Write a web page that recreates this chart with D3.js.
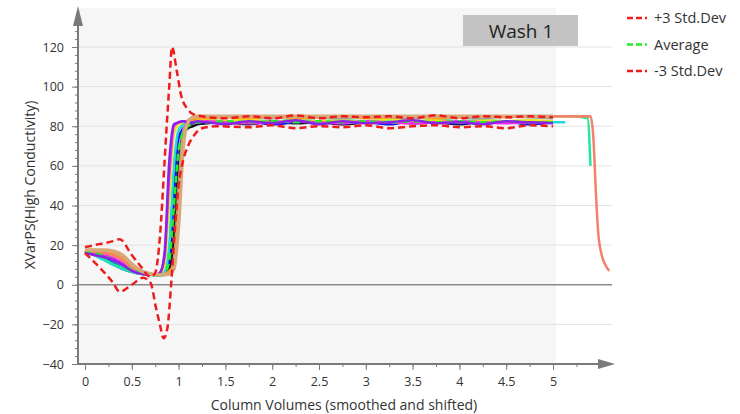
<!DOCTYPE html>
<html lang="en">
<head>
<meta charset="utf-8">
<title>Wash 1</title>
<script src="https://cdn.jsdelivr.net/npm/d3@7"></script>
<style>
body { margin: 0; background: #fff; }
svg { display: block; font-family: "Open Sans", "Noto Sans", sans-serif; }
</style>
</head>
<body>
<script>
// ---- data ----
var xGrid = [0,0.1,0.2,0.3,0.4,0.5,0.6,0.7, 0.75,0.8,0.85,0.9,0.95,1.0,1.05,1.1,1.15,1.2,
             1.3,1.5,1.75,2,2.25,2.5,2.75,3,3.25,3.5,3.75,4,4.25,4.5,4.75,5];

var blackY   = [17,15,13,10.5,8,6.5,5.5,5, 5,5,5.5,8,25,62,76,79,80,81,
                81.5,82,81,82.5,81.5,82,81,82,82.5,81.5,82,81,82.5,82,81.5,82];
var blueY    = [17,15.5,13.5,11,8.5,7,6,5.5, 5,5,6,12,45,74,79,81,81.5,82,
                82,81.5,82.5,81,82,82.5,81.5,82,81,82.5,82,81.5,82,82.5,81,82];
var cyanY    = [17,15,12.5,10,8,6.5,5.5,5, 5,5,6.5,20,60,78,81,82,82.5,83,
                83,82.5,83,82,83.5,82.5,83,82.5,83,82,83.5,82.5,83,82.5,82,82];
var tealY    = [17,15.5,13,10.5,8.5,6.5,5.5,5, 4.5,4.5,5,6,10,45,75,82,84,84.5,
                84.5,85,84.5,85,84.5,85,85,84.5,85,84.5,85,85,84.5,85,85,85];
var yellowY  = [17,16.5,15.5,14,11.5,8.5,6.5,5.5, 5,5.5,10,42,76,81,82,82.5,82.5,83,
                83,82.5,83.5,82,83,82.5,83,82,83.5,82.5,83,82,83,82.5,83,82.5];
var averageY = [17,16,14.5,12.5,10,7.5,6,5.5, 5,5,6,12,40,68,77,80,81,82,
                82,82.5,82,82.5,82,82.5,82,82.5,82,82.5,82,82.5,82,82.5,82,82];
var magentaY = [16.5,16,15,13.5,11,8,6,5, 5,6,14,55,80,82,82.5,82.5,82,82,
                82.5,82,81.5,82,82.5,82,81.5,82.5,82,81.5,82,82.5,82,81.5,82,82];
var grayY    = [17.5,17.5,17,16.5,14,10,7,5.5, 5,5,5,6,12,50,78,83,84,84.5,
                84.5,85,84.5,84,85,84.5,84,85,84.5,84,85,84.5,84,85,84.5,84];
var orangeY  = [17,17,16.5,15.5,13,9,6.5,5.5, 5,5,5.5,7,10,40,74,81,83,84,
                84,84.5,84,85,84,84.5,85,84,84.5,85,84,84.5,85,84.5,85,85];
var salmonY  = [17,16.5,16,15,12.5,8.5,6,5, 5,5,5,6,9,35,72,82,84.5,85,
                85,85,85,85,85,85,85,85,85,85,85,85,85,85,85,85];
var purpleY  = [16,15,14,12.5,10,7,5.5,5, 5,6,16,62,81,82,82.5,82,82,82.5,
                82,81,82.5,81.5,83,81,82.5,81.5,82,83,81.5,82,81,82.5,82,81.5];
var tanY     = [17.5,17.5,17.5,17,15,10.5,7,5.5, 5,5,5,5.5,8,30,70,82,84.5,85,
                85,85,85,85,85,85,85,85,85,85,85,85,85,85,85,85];

// tails of the runs that go past 5 column volumes
var cyanTailX   = [5.13];
var cyanTailY   = [82];
var tealTailX   = [5.2, 5.37, 5.4];
var tealTailY   = [85, 84, 60];
var orangeTailX = [5.2, 5.4];
var orangeTailY = [85, 85];
var salmonTailX = [5.2, 5.4, 5.43, 5.46, 5.48, 5.52, 5.56, 5.6];
var salmonTailY = [85, 85, 75, 45, 28, 15, 10, 7];

// +/- 3 standard deviation bands
var plusX  = [0,0.15,0.3,0.37,0.5,0.6,0.7,0.75,0.8,0.85,0.87,0.9,0.93,0.98,1.03,1.09,1.16,1.25,
              1.5,1.75,2,2.25,2.5,2.75,3,3.25,3.5,3.75,4,4.25,4.5,4.75,5];
var plusY  = [19,20.5,22,23,15,9,4,6,24,62,78,100,120,108,95,89,86,85,
              84,85,84,85.5,84,85,84.5,85,84,85.5,84,85,84.5,85,84.5];
var minusX = [0,0.15,0.3,0.37,0.5,0.62,0.7,0.76,0.8,0.84,0.88,0.92,0.96,1.0,1.05,1.1,1.16,1.25,
              1.4,1.75,2,2.25,2.5,2.75,3,3.25,3.5,3.75,4,4.25,4.5,4.75,5];
var minusY = [16,9,1,-3.5,0,3.5,1,-12,-20,-27,-22,0,28,50,63,70,75,79,
              80,79.5,80.5,79,80,79.5,80.5,79,80,80.5,79.5,80,79,80.5,80];

var yTicks  = [-40,-20,0,20,40,60,80,100,120];
var xTicks  = [0,0.5,1,1.5,2,2.5,3,3.5,4,4.5,5];
var legendNames  = ["+3 Std.Dev", "Average", "-3 Std.Dev"];
var legendColors = ["#ee1c1c", "#22ee22", "#ee1c1c"];

// ---- layout ----
var svgWidth = 740, svgHeight = 414;
var axisX = 78, axisY = 364;

var svg = d3.select("body").append("svg")
    .attr("width", svgWidth)
    .attr("height", svgHeight);

var x = d3.scaleLinear().domain([0, 5]).range([85, 553]);
var y = d3.scaleLinear().domain([-40, 120]).range([364, 47]);

// plot background (grey only up to 5 CV)
svg.append("rect")
    .attr("x", axisX).attr("y", 8)
    .attr("width", x(5.03) - axisX).attr("height", axisY - 8)
    .attr("fill", "#f6f6f6");

// gridlines
svg.append("g").selectAll("line")
    .data(yTicks.filter(function(d){ return d != -40; }))
    .enter().append("line")
    .attr("x1", axisX).attr("x2", 612)
    .attr("y1", function(d){ return y(d); })
    .attr("y2", function(d){ return y(d); })
    .attr("stroke", function(d){ return d == 0 ? "#8a8a8a" : "#e2e2e2"; })
    .attr("stroke-width", function(d){ return d == 0 ? 1.5 : 1; });

// series
function mk(color, xs, ys, w, dash) {
    return { color: color, xs: xs, ys: ys, w: w || 2.5, dash: dash || null };
}
var series = [
    mk("#111111", xGrid, blackY),
    mk("#1010ee", xGrid, blueY),
    mk("#22d8e0", xGrid.concat(cyanTailX), cyanY.concat(cyanTailY)),
    mk("#22e6a0", xGrid.concat(tealTailX), tealY.concat(tealTailY)),
    mk("#e8e820", xGrid, yellowY),
    mk("#ff22ff", xGrid, magentaY),
    mk("#a0a0a0", xGrid, grayY),
    mk("#ffa020", xGrid.concat(orangeTailX), orangeY.concat(orangeTailY)),
    mk("#f4806c", xGrid.concat(salmonTailX), salmonY.concat(salmonTailY)),
    mk("#22ee22", xGrid, averageY, 2.5, "7,4"),
    mk("#8a22e8", xGrid, purpleY),
    mk("#d8a878", xGrid, tanY, 3.5),
    mk("#ee1c1c", plusX, plusY, 2.5, "7,4"),
    mk("#ee1c1c", minusX, minusY, 2.5, "7,4")
];

var line = d3.line()
    .x(function(d){ return x(d[0]); })
    .y(function(d){ return y(d[1]); })
    .curve(d3.curveMonotoneX);

svg.append("g").selectAll("path")
    .data(series)
    .enter().append("path")
    .attr("d", function(s){ return line(s.xs.map(function(v, i){ return [v, s.ys[i]]; })); })
    .attr("fill", "none")
    .attr("stroke", function(s){ return s.color; })
    .attr("stroke-width", function(s){ return s.w; })
    .attr("stroke-dasharray", function(s){ return s.dash; })
    .attr("stroke-linejoin", "round");

// axes
var axisColor = "#7a7a7a";
var yMinor = d3.range(-40, 129, 4);
var xMinor = d3.range(0, 5.3, 0.25);

var yAx = svg.append("g").attr("transform", "translate(" + axisX + ",0)");
yAx.call(d3.axisLeft(y).tickValues(yMinor).tickSize(3).tickFormat(""));
yAx.call(function(g){ g.selectAll(".tick line").attr("stroke", axisColor); });
var yMaj = svg.append("g").attr("transform", "translate(" + axisX + ",0)")
    .call(d3.axisLeft(y).tickValues(yTicks).tickSize(6).tickPadding(8));
yMaj.selectAll(".tick line").attr("stroke", axisColor);
yMaj.selectAll("text").attr("fill", "#333").style("font-size", "12.5px").style("font-family", '"Open Sans", sans-serif');
svg.selectAll(".domain").remove();

var xAx = svg.append("g").attr("transform", "translate(0," + axisY + ")");
xAx.call(d3.axisBottom(x).tickValues(xMinor).tickSize(3).tickFormat(""));
xAx.selectAll(".tick line").attr("stroke", axisColor);
var xMaj = svg.append("g").attr("transform", "translate(0," + axisY + ")")
    .call(d3.axisBottom(x).tickValues(xTicks).tickSize(6).tickPadding(7).tickFormat(d3.format("")));
xMaj.selectAll(".tick line").attr("stroke", axisColor);
xMaj.selectAll("text").attr("fill", "#333").style("font-size", "12.5px").style("font-family", '"Open Sans", sans-serif');
svg.selectAll(".domain").remove();

// axis lines with arrows
svg.append("line").attr("x1", axisX).attr("x2", axisX).attr("y1", axisY).attr("y2", 20)
    .attr("stroke", axisColor).attr("stroke-width", 2);
svg.append("path").attr("d", "M" + (axisX - 5) + ",26 L" + axisX + ",6 L" + (axisX + 5) + ",26 Z")
    .attr("fill", axisColor);
svg.append("line").attr("x1", axisX).attr("x2", 602).attr("y1", axisY).attr("y2", axisY)
    .attr("stroke", axisColor).attr("stroke-width", 2);
svg.append("path").attr("d", "M598," + (axisY - 5) + " L615," + axisY + " L598," + (axisY + 5) + " Z")
    .attr("fill", axisColor);

// axis titles
svg.append("text")
    .attr("x", 344).attr("y", 410)
    .attr("text-anchor", "middle")
    .attr("fill", "#333").style("font-size", "14px")
    .text("Column Volumes (smoothed and shifted)");
svg.append("text")
    .attr("transform", "translate(35,185) rotate(-90)")
    .attr("text-anchor", "middle")
    .attr("fill", "#333").style("font-size", "14px")
    .text("XVarPS(High Conductivity)");

// title box
svg.append("rect")
    .attr("x", 463).attr("y", 15).attr("width", 115).attr("height", 31)
    .attr("fill", "#c3c3c3");
svg.append("text")
    .attr("x", 521).attr("y", 38)
    .attr("text-anchor", "middle")
    .attr("fill", "#222").style("font-size", "19px")
    .text("Wash 1");

// legend
var leg = svg.append("g").selectAll("g")
    .data(legendNames)
    .enter().append("g")
    .attr("transform", function(d, i){ return "translate(627," + (18 + i * 26.5) + ")"; });
leg.append("line")
    .attr("x1", 0).attr("x2", 23).attr("y1", 0).attr("y2", 0)
    .attr("stroke", function(d, i){ return legendColors[i]; })
    .attr("stroke-width", 2.5)
    .attr("stroke-dasharray", "6,3,6,3,2");
leg.append("text")
    .attr("x", 27).attr("y", 5)
    .attr("fill", "#333").style("font-size", "14.5px")
    .text(function(d){ return d; });
</script>
</body>
</html>
